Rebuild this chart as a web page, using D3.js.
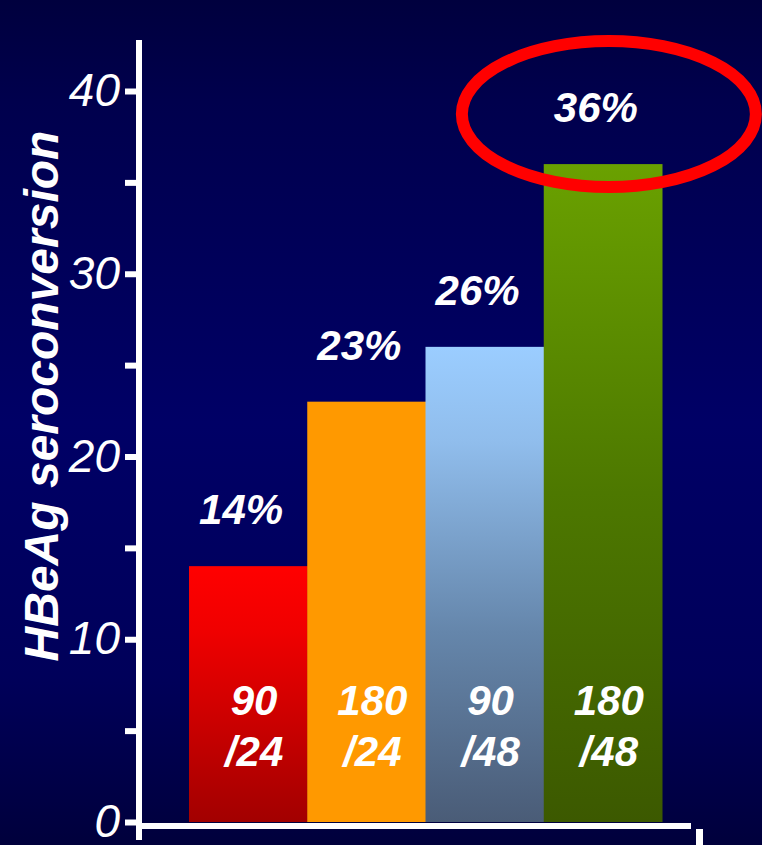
<!DOCTYPE html>
<html>
<head>
<meta charset="utf-8">
<script src="https://cdn.jsdelivr.net/npm/d3@7"></script>
<style>
  html, body { margin: 0; padding: 0; background: #000055; }
  svg { display: block; }
</style>
</head>
<body>
<script>
// Regimen groups (dose / weeks), HBeAg seroconversion rates
const categories = ["90/24", "180/24", "90/48", "180/48"];
const doseLines = [["90", "/24"], ["180", "/24"], ["90", "/48"], ["180", "/48"]];
const seroconversion = [14, 23, 26, 36];
const pctLabels = ["14%", "23%", "26%", "36%"];
const yTicks = [0, 5, 10, 15, 20, 25, 30, 35, 40];
const yTickLabels = ["0", "", "10", "", "20", "", "30", "", "40"];
const highlighted = "180/48";
const yTitle = "HBeAg seroconversion";

const W = 762, H = 845;
const FONT = "'Liberation Sans', Arial, Helvetica, sans-serif";

const svg = d3.select("body").append("svg")
  .attr("width", W).attr("height", H);

const defs = svg.append("defs");
function vGrad(id, stops) {
  const g = defs.append("linearGradient").attr("id", id)
    .attr("x1", 0).attr("y1", 0).attr("x2", 0).attr("y2", 1);
  stops.forEach(([o, c]) => g.append("stop").attr("offset", o).attr("stop-color", c));
}
vGrad("bg", [[0, "#00003e"], [0.12, "#00004d"], [0.5, "#000066"], [0.8, "#00005a"], [1, "#00003c"]]);
vGrad("g-red", [[0, "#ff0000"], [0.25, "#f00000"], [1, "#a20000"]]);
vGrad("g-orange", [[0, "#ff9900"], [1, "#ff9900"]]);
vGrad("g-blue", [[0, "#9bcdff"], [0.2, "#90bdec"], [0.6, "#6586ab"], [1, "#4a5c77"]]);
vGrad("g-green", [[0, "#6aa100"], [0.5, "#4d7800"], [1, "#3c5900"]]);
const fills = ["url(#g-red)", "url(#g-orange)", "url(#g-blue)", "url(#g-green)"];

svg.append("rect").attr("width", W).attr("height", H).attr("fill", "url(#bg)");

const x = d3.scaleBand().domain(categories).range([189, 662]).padding(0);
const y = d3.scaleLinear().domain([0, 40]).range([822, 91]);

// Bars
svg.append("g").selectAll("rect")
  .data(categories)
  .join("rect")
  .attr("x", d => x(d))
  .attr("y", (d, i) => y(seroconversion[i]))
  .attr("width", x.bandwidth() + 0.5)
  .attr("height", (d, i) => y(0) - y(seroconversion[i]))
  .attr("fill", (d, i) => fills[i]);

// Percentage labels above bars
svg.append("g").selectAll("text")
  .data(categories)
  .join("text")
  .attr("x", d => x(d) + x.bandwidth() / 2 - 7)
  .attr("y", (d, i) => y(seroconversion[i]) - 42)
  .attr("text-anchor", "middle")
  .attr("fill", "#ffffff")
  .attr("font-family", FONT)
  .attr("font-size", 42)
  .attr("font-weight", "bold")
  .attr("font-style", "italic")
  .text((d, i) => pctLabels[i]);

// Dose / duration labels inside bars
const doseG = svg.append("g").selectAll("text")
  .data(categories)
  .join("text")
  .attr("text-anchor", "middle")
  .attr("fill", "#ffffff")
  .attr("font-family", FONT)
  .attr("font-size", 42)
  .attr("font-weight", "bold")
  .attr("font-style", "italic");
doseG.each(function (d, i) {
  const t = d3.select(this);
  const cx = x(d) + x.bandwidth() / 2 + 6;
  t.append("tspan").attr("x", cx).attr("y", y(0) - 107).text(doseLines[i][0]);
  t.append("tspan").attr("x", cx).attr("y", y(0) - 56).text(doseLines[i][1]);
});

// Highlight ring around the top group's label
const hi = categories.indexOf(highlighted);
svg.append("ellipse")
  .attr("cx", x(highlighted) + x.bandwidth() / 2 + 6)
  .attr("cy", y(seroconversion[hi]) - 50)
  .attr("rx", 147)
  .attr("ry", 73)
  .attr("fill", "none")
  .attr("stroke", "#ff0000")
  .attr("stroke-width", 12);

// Y axis
const yAxis = d3.axisLeft(y)
  .tickValues(yTicks)
  .tickSize(17)
  .tickPadding(5)
  .tickFormat((d, i) => yTickLabels[i]);
const yg = svg.append("g").attr("transform", "translate(142,0)").call(yAxis);
yg.select(".domain").remove();
yg.selectAll(".tick line").attr("stroke", "#ffffff").attr("stroke-width", 6);
yg.selectAll(".tick text")
  .attr("fill", "#ffffff")
  .attr("font-family", FONT)
  .attr("font-size", 46)
  .attr("font-style", "italic");

// Axis lines
svg.append("rect").attr("x", 136).attr("y", 40).attr("width", 6).attr("height", 800).attr("fill", "#ffffff");
svg.append("rect").attr("x", 136).attr("y", y(0) + 1).attr("width", 555).attr("height", 6).attr("fill", "#ffffff");
svg.append("rect").attr("x", 696).attr("y", y(0) + 7).attr("width", 7).attr("height", 20).attr("fill", "#ffffff");

// Y axis title
svg.append("text")
  .attr("transform", "translate(58,396) rotate(-90)")
  .attr("text-anchor", "middle")
  .attr("fill", "#ffffff")
  .attr("font-family", FONT)
  .attr("font-size", 48)
  .attr("font-weight", "bold")
  .attr("font-style", "italic")
  .text(yTitle);
</script>
</body>
</html>
